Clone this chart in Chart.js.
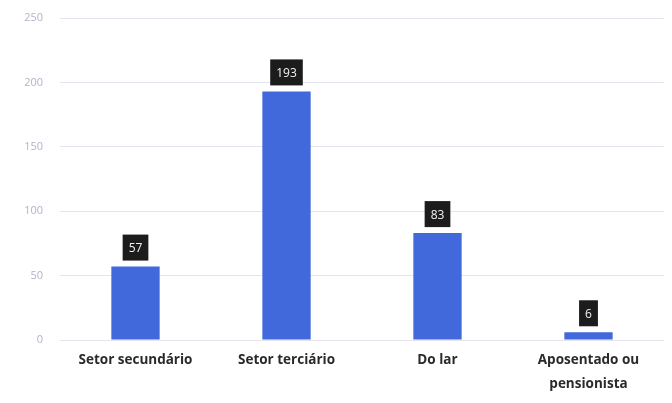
<!DOCTYPE html>
<html>
<head>
<meta charset="utf-8">
<script src="https://cdn.jsdelivr.net/npm/chart.js@4/dist/chart.umd.min.js"></script>
<style>
  html, body { margin: 0; padding: 0; background: #fff; }
  #wrap { width: 672px; height: 403px; position: relative; }
</style>
</head>
<body>
<div id="wrap"><canvas id="c"></canvas></div>
<script>
// Dados
const categorias = ["Setor secundário", "Setor terciário", "Do lar", ["Aposentado ou", "pensionista"]];
const valores = [57, 193, 83, 6];
const ticksY = [0, 50, 100, 150, 200, 250];

const BAR_COLOR = "#4169db";
const GRID_COLOR = "#e4e4ec";
const TICK_COLOR = "#b4b2c8";
const FONT = "'Open Sans', Lato, sans-serif";

// Caixinha preta com o valor acima de cada barra
const valueBoxes = {
    id: "valueBoxes",
    afterDatasetsDraw(chart) {
        const ctx = chart.ctx;
        const meta = chart.getDatasetMeta(0);
        ctx.save();
        ctx.font = "12px " + FONT;
        ctx.textAlign = "center";
        ctx.textBaseline = "middle";
        meta.data.forEach((bar, i) => {
            const txt = String(valores[i]);
            const w = ctx.measureText(txt).width + 12;
            const h = 26;
            const x = bar.x - w / 2;
            const y = bar.y - 6 - h;
            ctx.fillStyle = "#1c1c1c";
            ctx.fillRect(x, y, w, h);
            ctx.fillStyle = "#f2f2f2";
            ctx.fillText(txt, bar.x, y + h / 2 + 1);
        });
        ctx.restore();
    },
};

new Chart(document.getElementById("c"), {
    type: "bar",
    data: {
        labels: categorias,
        datasets: [{
            data: valores,
            backgroundColor: BAR_COLOR,
            borderWidth: 0,
            barPercentage: 0.32,
            categoryPercentage: 1,
        }],
    },
    options: {
        responsive: true,
        maintainAspectRatio: false,
        animation: false,
        layout: { padding: { top: 18, right: 8, bottom: 0, left: 0 } },
        plugins: { legend: { display: false }, tooltip: { enabled: false } },
        scales: {
            x: {
                border: { display: false },
                grid: { display: false },
                ticks: {
                    color: "#2a2a2a",
                    padding: 0,
                    maxRotation: 0,
                    autoSkip: false,
                    font: { family: FONT, size: 13.5, weight: "bold", lineHeight: 1.8 },
                },
                afterFit(scale) { scale.height = 63; },
            },
            y: {
                min: 0,
                max: 250,
                border: { display: false },
                grid: { color: GRID_COLOR, borderDash: [1, 3], drawTicks: false },
                afterBuildTicks(scale) { scale.ticks = ticksY.map((v) => ({ value: v })); },
                ticks: {
                    color: TICK_COLOR,
                    padding: 17,
                    font: { family: FONT, size: 11 },
                },
                afterFit(scale) {
                    scale.width = 60;
                    // o padding dos ticks não deve empurrar a área do gráfico para baixo
                    scale.paddingTop = 0;
                    scale.paddingBottom = 0;
                },
            },
        },
    },
    plugins: [valueBoxes],
});
</script>
</body>
</html>
